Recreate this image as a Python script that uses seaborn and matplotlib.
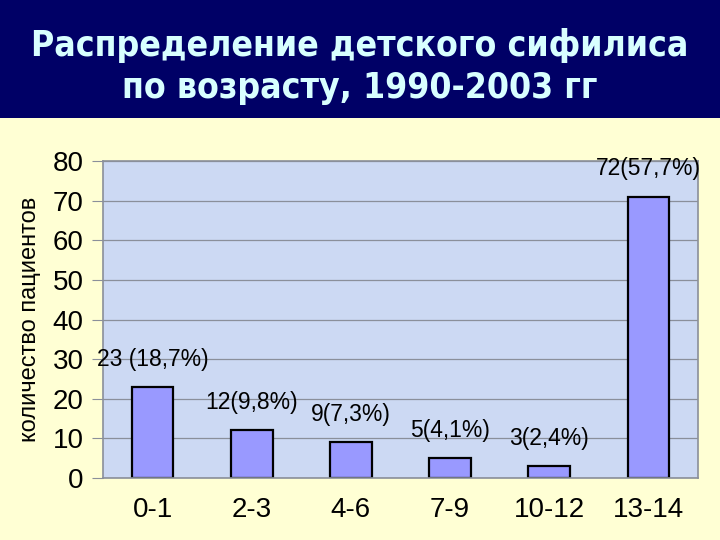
import pandas as pd
import matplotlib
matplotlib.use("Agg")
import matplotlib.pyplot as plt
import seaborn as sns

# age groups and patient counts
age_groups = ["0-1", "2-3", "4-6", "7-9", "10-12", "13-14"]
patients = [23, 12, 9, 5, 3, 71]
bar_labels = ["23 (18,7%)", "12(9,8%)", "9(7,3%)", "5(4,1%)", "3(2,4%)", "72(57,7%)"]

df = pd.DataFrame({"age": age_groups, "count": patients})

sns.set_style("white")
plt.rcParams["font.family"] = ["Liberation Sans", "DejaVu Sans"]

fig = plt.figure(figsize=(7.2, 5.4), dpi=100)
fig.patch.set_facecolor("#FFFFD4")

# dark title band
band = fig.add_axes([0, 1 - 118 / 540, 1, 118 / 540])
band.set_facecolor("#000066")
band.set_xticks([])
band.set_yticks([])
for s in band.spines.values():
    s.set_visible(False)
band.text(0.5, 0.44, "Распределение детского сифилиса\nпо возрасту, 1990-2003 гг",
          ha="center", va="center", color="#D8FFFF", fontsize=25.5, fontweight="bold",
          linespacing=1.3, family=["DejaVu Sans"], fontstretch="condensed")

ax = fig.add_axes([103 / 720, 1 - 478 / 540, 595 / 720, 317 / 540])
ax.set_facecolor("#CCD9F3")
sns.barplot(data=df, x="age", y="count", ax=ax, color="#9999FF", width=0.42,
            edgecolor="black", linewidth=1.6, saturation=1)

for i, (v, lab) in enumerate(zip(patients, bar_labels)):
    ax.annotate(lab, (i, v), xytext=(0, 20), textcoords="offset points",
                ha="center", va="center", fontsize=16.5, color="black")

ax.set_ylim(0, 80)
ax.set_xlim(-0.5, 5.5)
ax.set_yticks(range(0, 81, 10))
ax.yaxis.grid(True, color="#8A8F9A", linewidth=0.9)
ax.set_axisbelow(True)
for s in ax.spines.values():
    s.set_color("#8A8F9A")
    s.set_linewidth(1.2)
ax.tick_params(axis="y", left=True, length=8, color="#8A8F9A", labelsize=20,
               labelcolor="black", pad=6)
ax.tick_params(axis="x", bottom=False, labelsize=20, labelcolor="black", pad=10)
ax.set_xlabel("")
ax.set_ylabel("количество пациентов", fontsize=17, labelpad=8, color="black")

fig.savefig("out.png", dpi=100, facecolor=fig.get_facecolor())
